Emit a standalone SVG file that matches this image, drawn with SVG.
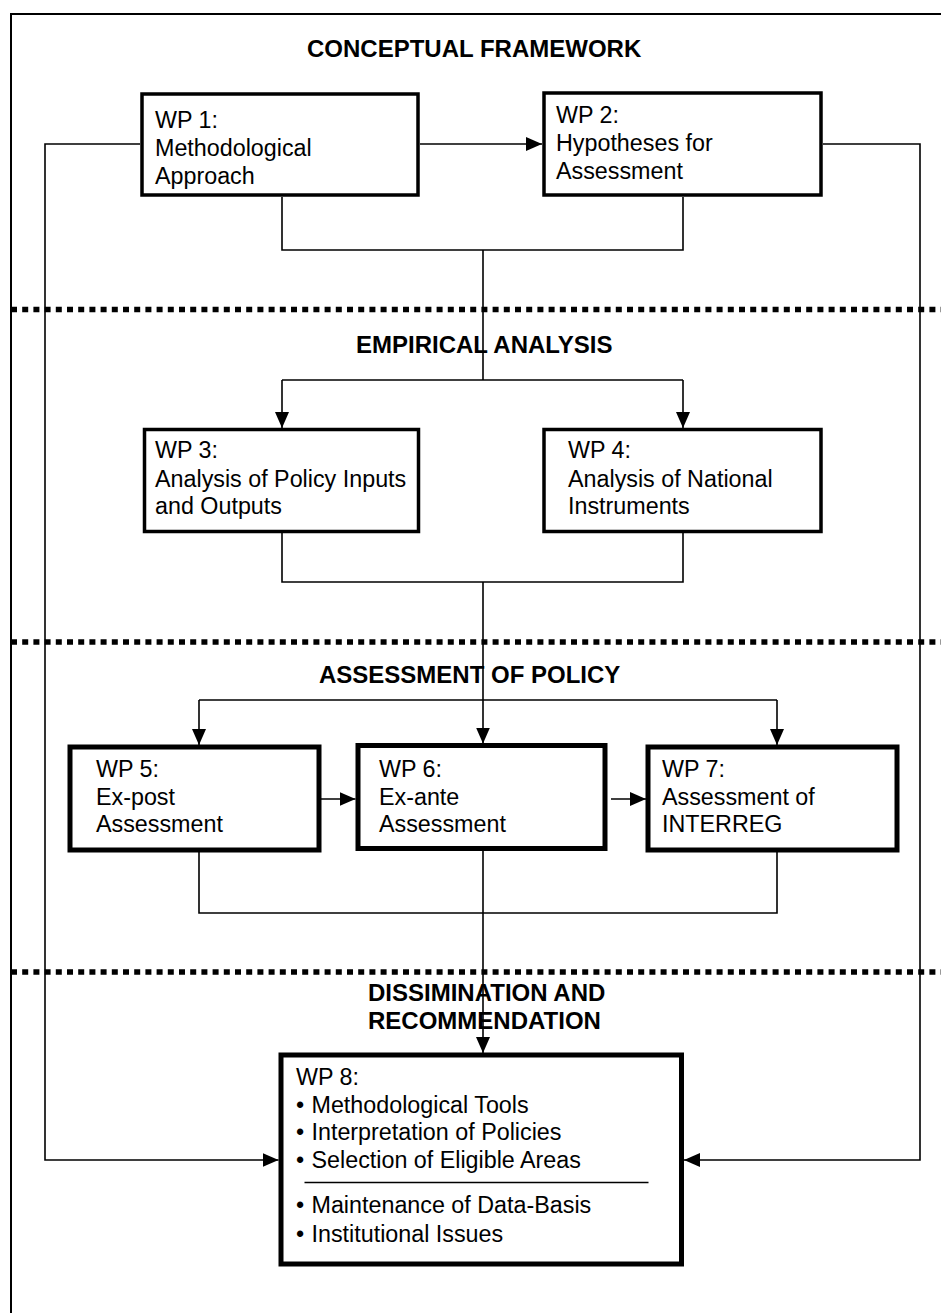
<svg xmlns="http://www.w3.org/2000/svg" width="941" height="1313" viewBox="0 0 941 1313">
<defs>
<marker id="arr" markerUnits="userSpaceOnUse" viewBox="0 0 16 14" markerWidth="16" markerHeight="14" refX="16" refY="7" orient="auto">
<path d="M0 0 L16 7 L0 14 z" fill="#000"/>
</marker>
<style>
.hdr{font-family:"Liberation Sans",Arial,sans-serif;font-weight:bold;font-size:24px;fill:#000}
.txt{font-family:"Liberation Sans",Arial,sans-serif;font-size:23.3px;fill:#000}
.box{fill:#fff;stroke:#000;stroke-width:3.5}
.box2{fill:#fff;stroke:#000;stroke-width:5}
.ln{fill:none;stroke:#000;stroke-width:1.6}
.ar{fill:none;stroke:#000;stroke-width:1.6;marker-end:url(#arr)}
.dash{fill:none;stroke:#000;stroke-width:5.5;stroke-dasharray:6 5.2}
</style>
</defs>
<rect x="0" y="0" width="941" height="1313" fill="#fff"/>
<g id="frame">
<path d="M11 1313 V14 H941" fill="none" stroke="#000" stroke-width="2"/>
</g>
<g id="separators">
<path class="dash" d="M11 309.5 H941"/>
<path class="dash" d="M11 642 H941"/>
<path class="dash" d="M11 972 H941"/>
</g>
<g id="headers">
<text class="hdr" x="307" y="57">CONCEPTUAL FRAMEWORK</text>
<text class="hdr" x="356" y="353">EMPIRICAL ANALYSIS</text>
<text class="hdr" x="319" y="683">ASSESSMENT OF POLICY</text>
<text class="hdr" x="368" y="1001">DISSIMINATION AND</text>
<text class="hdr" x="368" y="1028.5">RECOMMENDATION</text>
</g>
<g id="connectors">
<path class="ar" d="M140 144 H45 V1160 H278.5"/>
<path class="ar" d="M420 144 H542"/>
<path class="ar" d="M823 144 H920 V1160 H684"/>
<path class="ln" d="M282 197 V250 H683 V197"/>
<path class="ln" d="M483 250 V380"/>
<path class="ln" d="M282 380 H683"/>
<path class="ar" d="M282 380 V428"/>
<path class="ar" d="M683 380 V428"/>
<path class="ln" d="M282 533 V582 H683 V533"/>
<path class="ar" d="M483 582 V743.5"/>
<path class="ln" d="M199 700 H777"/>
<path class="ar" d="M199 700 V745"/>
<path class="ar" d="M777 700 V745"/>
<path class="ar" d="M315 799 H355.5"/>
<path class="ar" d="M611 799 H646"/>
<path class="ln" d="M199 852 V913 H777 V852"/>
<path class="ar" d="M483 851 V1053"/>
</g>
<g id="wp1">
<rect class="box" x="142" y="94" width="276" height="101"/>
<text class="txt" x="155" y="128">WP 1:</text>
<text class="txt" x="155" y="156">Methodological</text>
<text class="txt" x="155" y="184">Approach</text>
</g>
<g id="wp2">
<rect class="box" x="544" y="93" width="277" height="102"/>
<text class="txt" x="556" y="123">WP 2:</text>
<text class="txt" x="556" y="151">Hypotheses for</text>
<text class="txt" x="556" y="179">Assessment</text>
</g>
<g id="wp3">
<rect class="box" x="144.5" y="429.5" width="274" height="102"/>
<text class="txt" x="155" y="458">WP 3:</text>
<text class="txt" x="155" y="486.5">Analysis of Policy Inputs</text>
<text class="txt" x="155" y="514">and Outputs</text>
</g>
<g id="wp4">
<rect class="box" x="544" y="429.5" width="277" height="102"/>
<text class="txt" x="568" y="458">WP 4:</text>
<text class="txt" x="568" y="486.5">Analysis of National</text>
<text class="txt" x="568" y="514">Instruments</text>
</g>
<g id="wp5">
<rect class="box2" x="70" y="747" width="249" height="103"/>
<text class="txt" x="96" y="777">WP 5:</text>
<text class="txt" x="96" y="805">Ex-post</text>
<text class="txt" x="96" y="832">Assessment</text>
</g>
<g id="wp6">
<rect class="box2" x="358" y="745.5" width="247" height="103"/>
<text class="txt" x="379" y="777">WP 6:</text>
<text class="txt" x="379" y="805">Ex-ante</text>
<text class="txt" x="379" y="832">Assessment</text>
</g>
<g id="wp7">
<rect class="box2" x="648" y="747" width="249" height="103"/>
<text class="txt" x="662" y="777">WP 7:</text>
<text class="txt" x="662" y="804.5">Assessment of</text>
<text class="txt" x="662" y="832">INTERREG</text>
</g>
<g id="wp8">
<rect class="box2" x="281" y="1055" width="400.5" height="209"/>
<text class="txt" x="296" y="1085">WP 8:</text>
<text class="txt" y="1112.5"><tspan x="296">•</tspan><tspan x="311.5">Methodological Tools</tspan></text>
<text class="txt" y="1140"><tspan x="296">•</tspan><tspan x="311.5">Interpretation of Policies</tspan></text>
<text class="txt" y="1167.5"><tspan x="296">•</tspan><tspan x="311.5">Selection of Eligible Areas</tspan></text>
<path d="M304.5 1182.5 H648.5" stroke="#000" stroke-width="1.6"/>
<text class="txt" y="1212.5"><tspan x="296">•</tspan><tspan x="311.5">Maintenance of Data-Basis</tspan></text>
<text class="txt" y="1241.5"><tspan x="296">•</tspan><tspan x="311.5">Institutional Issues</tspan></text>
</g>
</svg>
